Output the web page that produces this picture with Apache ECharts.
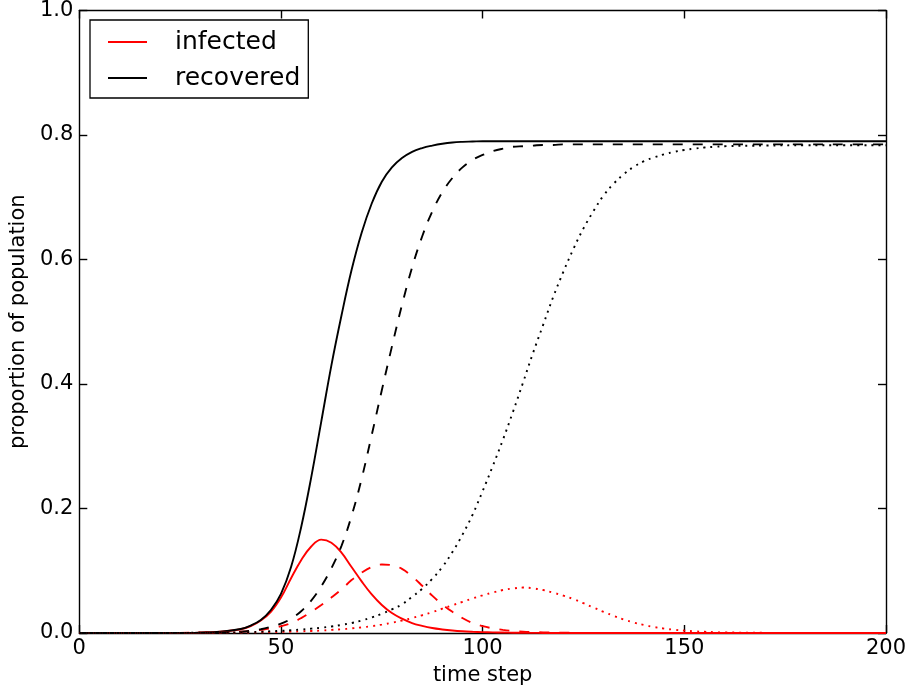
<!DOCTYPE html>
<html>
<head>
<meta charset="utf-8">
<script src="https://cdn.jsdelivr.net/npm/echarts@6/dist/echarts.min.js"></script>
<style>
html,body{margin:0;padding:0;background:#fff;}
#chart{width:912px;height:693px;}
</style>
</head>
<body>
<div id="chart"></div>
<script>
// time steps shared by all series
var timeSteps = [0, 10, 20, 25, 30, 35,
  40, 42.5, 45, 47.5, 50, 52.5, 55, 57.5, 60, 62.5, 65, 67.5, 70, 72.5,
  75, 77.5, 80, 82.5, 85, 87.5, 90, 92.5, 95, 97.5, 100, 102.5, 105, 107.5,
  110, 112.5, 115, 117.5, 120, 122.5, 125, 127.5, 130, 132.5, 135, 137.5,
  140, 142.5, 145, 147.5, 150, 152.5, 155, 157.5, 160,
  170, 180, 190, 200];

// solid curves
var infectedSolid = [0, 0, 0, 0.0002, 0.0006, 0.002,
  0.006, 0.011, 0.020, 0.034, 0.057, 0.088, 0.117, 0.139, 0.150, 0.145, 0.129, 0.106, 0.083, 0.062,
  0.045, 0.032, 0.023, 0.016, 0.0115, 0.008, 0.0057, 0.004, 0.0028, 0.002, 0.0014, 0.001, 0.0007, 0.0005,
  0.0003, 0.0002, 0.0001, 0.0001, 0, 0, 0, 0, 0, 0, 0, 0,
  0, 0, 0, 0, 0, 0, 0, 0, 0,
  0, 0, 0, 0];
var recoveredSolid = [0, 0, 0, 0.0002, 0.0006, 0.002,
  0.0065, 0.012, 0.021, 0.037, 0.063, 0.106, 0.170, 0.250, 0.340, 0.430, 0.510, 0.583, 0.643, 0.690,
  0.725, 0.748, 0.763, 0.773, 0.779, 0.783, 0.786, 0.788, 0.789, 0.7895, 0.79, 0.79, 0.79, 0.79,
  0.79, 0.79, 0.79, 0.79, 0.79, 0.79, 0.79, 0.79, 0.79, 0.79, 0.79, 0.79,
  0.79, 0.79, 0.79, 0.79, 0.79, 0.79, 0.79, 0.79, 0.79,
  0.79, 0.79, 0.79, 0.79];

// dashed curves
var infectedDashed = [0, 0, 0, 0.0002, 0.0005, 0.001,
  0.002, 0.003, 0.005, 0.0075, 0.011, 0.016, 0.024, 0.034, 0.045, 0.057, 0.070, 0.085, 0.097, 0.106,
  0.110, 0.109, 0.103, 0.091, 0.076, 0.060, 0.046, 0.034, 0.024, 0.016, 0.011, 0.0075, 0.005, 0.0033,
  0.0022, 0.0015, 0.001, 0.0007, 0.0005, 0.0003, 0.0002, 0.0001, 0, 0, 0, 0,
  0, 0, 0, 0, 0, 0, 0, 0, 0,
  0, 0, 0, 0];
var recoveredDashed = [0, 0, 0, 0.0001, 0.0003, 0.0008,
  0.002, 0.0035, 0.006, 0.01, 0.015, 0.023, 0.035, 0.052, 0.075, 0.104, 0.140, 0.188, 0.248, 0.318,
  0.390, 0.460, 0.527, 0.587, 0.637, 0.677, 0.708, 0.731, 0.748, 0.760, 0.768, 0.774, 0.778, 0.781,
  0.782, 0.783, 0.784, 0.784, 0.785, 0.785, 0.785, 0.785, 0.785, 0.785, 0.785, 0.785,
  0.785, 0.785, 0.785, 0.785, 0.785, 0.785, 0.785, 0.785, 0.785,
  0.785, 0.785, 0.785, 0.785];

// dotted curves
var infectedDotted = [0, 0, 0.0001, 0.0002, 0.0003, 0.0005,
  0.0007, 0.0009, 0.0011, 0.0014, 0.0018, 0.0022, 0.0027, 0.0033, 0.004, 0.005, 0.006, 0.0075, 0.009, 0.011,
  0.0135, 0.0165, 0.020, 0.024, 0.0285, 0.0335, 0.039, 0.0445, 0.050, 0.0555, 0.0605, 0.065, 0.069, 0.0715,
  0.073, 0.0718, 0.069, 0.0648, 0.060, 0.0545, 0.0478, 0.0408, 0.034, 0.0275, 0.0217, 0.0168,
  0.0128, 0.0096, 0.0071, 0.0052, 0.0038, 0.0027, 0.0019, 0.0013, 0.0009,
  0.0003, 0.0001, 0, 0];
var recoveredDotted = [0, 0, 0.0001, 0.0002, 0.0004, 0.0007,
  0.001, 0.0015, 0.002, 0.0028, 0.0035, 0.0045, 0.0055, 0.007, 0.0085, 0.0105, 0.013, 0.016, 0.020, 0.025,
  0.031, 0.038, 0.046, 0.058, 0.071, 0.087, 0.106, 0.130, 0.158, 0.190, 0.228, 0.268, 0.310, 0.355,
  0.402, 0.450, 0.495, 0.540, 0.580, 0.617, 0.650, 0.678, 0.703, 0.722, 0.737, 0.749,
  0.758, 0.764, 0.769, 0.773, 0.776, 0.778, 0.780, 0.781, 0.782,
  0.783, 0.7835, 0.7835, 0.7835];

var xTicks = {min: 0, max: 200, interval: 50};
var yTicks = {min: 0, max: 1, interval: 0.2};

function pairs(vals) {
  return timeSteps.map(function (t, i) { return [t, vals[i]]; });
}

var FONT = 'DejaVu Sans';
var DASH = [10, 10];
var DOT = [2, 5];

function mkSeries(name, vals, color, type) {
  return {
    name: name, type: 'line', data: pairs(vals), color: color,
    showSymbol: false, smooth: 0.4, xAxisIndex: 0, yAxisIndex: 0,
    lineStyle: {color: color, width: 1.9, type: type},
    itemStyle: {color: color},
    emphasis: {disabled: true}
  };
}

function axisCommon(extra) {
  var base = {
    type: 'value',
    axisLine: {show: true, onZero: false, lineStyle: {color: '#000', width: 1.4}},
    axisTick: {show: true, inside: true, length: 8, lineStyle: {color: '#000', width: 1.4}},
    splitLine: {show: false}
  };
  for (var k in extra) base[k] = extra[k];
  return base;
}

var chart = echarts.init(document.getElementById('chart'), null, {renderer: 'canvas'});
chart.setOption({
  animation: false,
  backgroundColor: '#fff',
  grid: {left: 78, right: 26, top: 8, bottom: 60, containLabel: false},
  legend: {
    data: ['infected', 'recovered'],
    orient: 'vertical', left: 90, top: 20,
    icon: 'rect', itemWidth: 39, itemHeight: 2, itemGap: 6,
    padding: [7, 8, 5, 18],
    borderColor: '#000', borderWidth: 1.3, borderRadius: 0,
    backgroundColor: '#fff',
    selectedMode: false,
    textStyle: {fontSize: 25, fontFamily: FONT, color: '#000', lineHeight: 30, padding: [0, 0, 0, 23]}
  },
  xAxis: [
    axisCommon({
      position: 'bottom', min: xTicks.min, max: xTicks.max, interval: xTicks.interval,
      axisLabel: {color: '#000', fontSize: 21, fontFamily: FONT, margin: 5},
      name: 'time step', nameLocation: 'middle', nameGap: 32,
      nameTextStyle: {color: '#000', fontSize: 21, fontFamily: FONT}
    }),
    axisCommon({
      position: 'top', min: xTicks.min, max: xTicks.max, interval: xTicks.interval,
      axisLabel: {show: false}
    })
  ],
  yAxis: [
    axisCommon({
      position: 'left', min: yTicks.min, max: yTicks.max, interval: yTicks.interval,
      axisLabel: {color: '#000', fontSize: 21, fontFamily: FONT, margin: 6,
        formatter: function (v) { return v.toFixed(1); }},
      name: 'proportion of population', nameLocation: 'middle', nameGap: 46,
      nameTextStyle: {color: '#000', fontSize: 21, fontFamily: FONT}
    }),
    axisCommon({
      position: 'right', min: yTicks.min, max: yTicks.max, interval: yTicks.interval,
      axisLabel: {show: false}
    })
  ],
  series: [
    mkSeries('infected', infectedSolid, '#ff0000', 'solid'),
    mkSeries('recovered', recoveredSolid, '#000000', 'solid'),
    mkSeries('infected (dashed run)', infectedDashed, '#ff0000', DASH),
    mkSeries('recovered (dashed run)', recoveredDashed, '#000000', DASH),
    mkSeries('infected (dotted run)', infectedDotted, '#ff0000', DOT),
    mkSeries('recovered (dotted run)', recoveredDotted, '#000000', DOT)
  ]
});
</script>
</body>
</html>
